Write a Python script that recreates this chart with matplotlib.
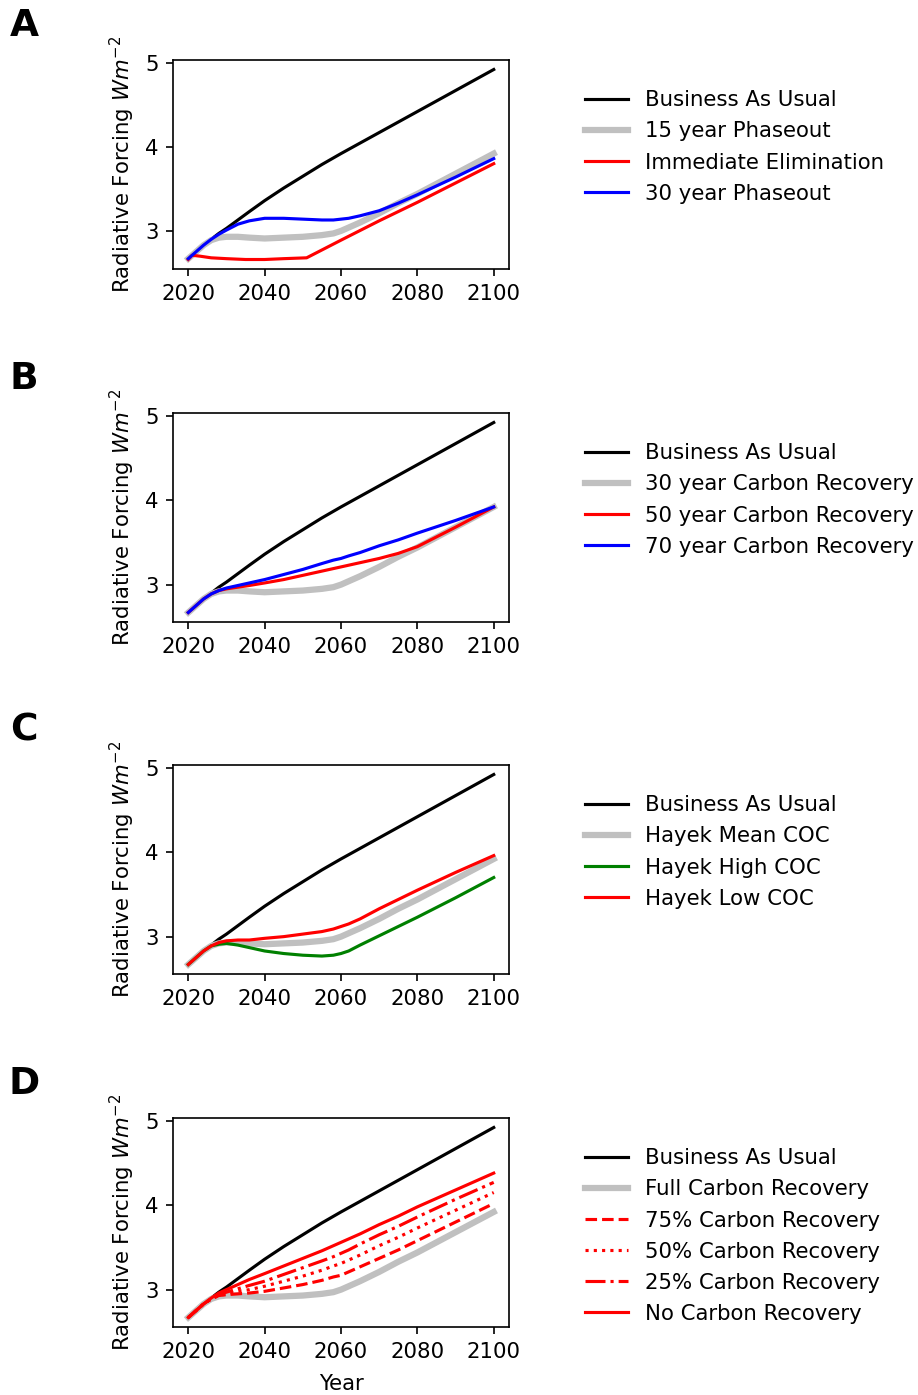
import matplotlib
matplotlib.use("Agg")
import matplotlib.pyplot as plt

plt.rcParams["font.size"] = 10.2

# shared year grid
years = [2020, 2022, 2024, 2026, 2028, 2030, 2033, 2036, 2040, 2045, 2050,
         2055, 2058, 2060, 2062, 2065, 2070, 2075, 2080, 2090, 2100]

# business as usual + full recovery (same in every panel)
bau = [2.67, 2.75, 2.83, 2.90, 2.97, 3.03, 3.13, 3.23, 3.36, 3.51, 3.65,
       3.79, 3.868, 3.92, 3.97, 4.045, 4.17, 4.295, 4.42, 4.67, 4.92]
full = [2.67, 2.75, 2.83, 2.89, 2.92, 2.93, 2.93, 2.92, 2.91, 2.92, 2.93,
        2.95, 2.97, 3.00, 3.04, 3.10, 3.21, 3.33, 3.44, 3.68, 3.92]

# A
immediate_years = [2020, 2021, 2023, 2026, 2030, 2035, 2040, 2045, 2051, 2060, 2070, 2080, 2090, 2100]
immediate = [2.66, 2.71, 2.70, 2.68, 2.67, 2.66, 2.66, 2.67, 2.68, 2.89, 3.12, 3.34, 3.57, 3.80]
phase30 = [2.67, 2.75, 2.83, 2.90, 2.96, 3.01, 3.08, 3.12, 3.15, 3.15, 3.14,
           3.13, 3.13, 3.14, 3.15, 3.18, 3.24, 3.33, 3.43, 3.64, 3.86]

# B
rec50 = [2.67, 2.75, 2.83, 2.89, 2.93, 2.95, 2.97, 2.99, 3.02, 3.06, 3.11,
         3.16, 3.19, 3.21, 3.23, 3.26, 3.31, 3.37, 3.45, 3.68, 3.92]
rec70 = [2.67, 2.75, 2.83, 2.89, 2.93, 2.96, 2.99, 3.02, 3.06, 3.12, 3.18,
         3.25, 3.29, 3.31, 3.34, 3.38, 3.46, 3.53, 3.61, 3.76, 3.92]

# C
hayek_high = [2.67, 2.75, 2.83, 2.89, 2.91, 2.92, 2.90, 2.87, 2.83, 2.80, 2.78,
              2.77, 2.78, 2.80, 2.83, 2.90, 3.01, 3.12, 3.23, 3.46, 3.70]
hayek_low = [2.67, 2.75, 2.83, 2.89, 2.93, 2.95, 2.96, 2.96, 2.98, 3.00, 3.03,
             3.06, 3.09, 3.12, 3.15, 3.21, 3.33, 3.44, 3.55, 3.76, 3.96]

# D
pct75 = [2.67, 2.75, 2.83, 2.89, 2.93, 2.94, 2.95, 2.96, 2.98, 3.02, 3.06,
         3.11, 3.15, 3.17, 3.21, 3.27, 3.37, 3.47, 3.58, 3.80, 4.02]
pct50 = [2.67, 2.75, 2.83, 2.89, 2.93, 2.95, 2.98, 3.00, 3.04, 3.10, 3.16,
         3.23, 3.28, 3.31, 3.35, 3.41, 3.52, 3.62, 3.73, 3.94, 4.15]
pct25 = [2.67, 2.75, 2.83, 2.89, 2.94, 2.97, 3.01, 3.05, 3.10, 3.18, 3.26,
         3.34, 3.39, 3.43, 3.47, 3.54, 3.65, 3.75, 3.86, 4.07, 4.27]
no_rec = [2.67, 2.75, 2.83, 2.90, 2.96, 3.00, 3.06, 3.12, 3.19, 3.28, 3.37,
          3.46, 3.52, 3.56, 3.60, 3.66, 3.77, 3.87, 3.98, 4.18, 4.38]

panel_letters = ["A", "B", "C", "D"]

fig = plt.figure(figsize=(6.12, 9.3), dpi=150)
W, H = 918, 1395
tops = [60, 413, 765, 1118]
axes = []
for t in tops:
    ax = fig.add_axes([173 / W, 1 - (t + 209) / H, 336 / W, 209 / H])
    axes.append(ax)

ax = axes[0]
ax.plot(years, bau, color="k", label="Business As Usual")
ax.plot(years, full, color="silver", lw=3, label="15 year Phaseout")
ax.plot(immediate_years, immediate, color="r", label="Immediate Elimination")
ax.plot(years, phase30, color="b", label="30 year Phaseout")

ax = axes[1]
ax.plot(years, bau, color="k", label="Business As Usual")
ax.plot(years, full, color="silver", lw=3, label="30 year Carbon Recovery")
ax.plot(years, rec50, color="r", label="50 year Carbon Recovery")
ax.plot(years, rec70, color="b", label="70 year Carbon Recovery")

ax = axes[2]
ax.plot(years, bau, color="k", label="Business As Usual")
ax.plot(years, full, color="silver", lw=3, label="Hayek Mean COC")
ax.plot(years, hayek_high, color="g", label="Hayek High COC")
ax.plot(years, hayek_low, color="r", label="Hayek Low COC")

ax = axes[3]
ax.plot(years, bau, color="k", label="Business As Usual")
ax.plot(years, full, color="silver", lw=3, label="Full Carbon Recovery")
ax.plot(years, pct75, color="r", ls="--", label="75% Carbon Recovery")
ax.plot(years, pct50, color="r", ls=":", label="50% Carbon Recovery")
ax.plot(years, pct25, color="r", ls="-.", label="25% Carbon Recovery")
ax.plot(years, no_rec, color="r", label="No Carbon Recovery")
ax.set_xlabel("Year", labelpad=6)

for ax, letter in zip(axes, panel_letters):
    ax.set_xticks([2020, 2040, 2060, 2080, 2100])
    ax.set_yticks([3, 4, 5])
    ax.set_ylabel("Radiative Forcing $Wm^{-2}$")
    ax.legend(loc="upper left", bbox_to_anchor=(1.170, 0.946), frameon=False,
              labelspacing=0.52)
    ax.text(-0.443, 1.163, letter, transform=ax.transAxes, fontsize=18,
            fontweight="bold", ha="center", va="center")

fig.savefig("out.png", dpi=150)
